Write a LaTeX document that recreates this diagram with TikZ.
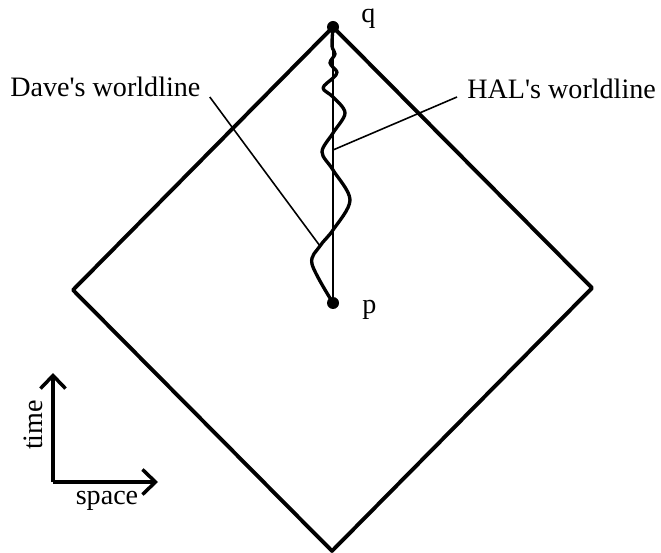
\documentclass[tikz,border=0pt]{standalone}
\usepackage{fontspec}
\setmainfont{Liberation Serif}
\usetikzlibrary{arrows.meta}
\begin{document}
\begin{tikzpicture}[x=0.02cm, y=-0.02cm, line join=round,
  lbl/.style={font=\fontsize{16}{19}\selectfont, inner sep=0pt},
  event/.style={circle, fill, inner sep=0pt, minimum size=0.24cm},
  cone/.style={line width=2.2pt},
  leader/.style={line width=0.9pt},
  axis/.style={line width=2pt,
    -{Straight Barb[length=2.6mm, width=5mm, line width=2pt]}}]
\useasboundingbox (0,0) rectangle (661,553);
% Events
\node[event] (q) at (333,27) {};
\node[event] (p) at (333,303) {};
\node[lbl, anchor=base west] (qlbl) at (361,23) {q};
\node[lbl, anchor=base west] (plbl) at (362,313) {p};
% Light cone corners
\coordinate (right)  at (592,288);
\coordinate (bottom) at (332,551);
\coordinate (left)   at (73,290);
\draw[cone] (q.center) -- (right) -- (bottom) -- (left) -- cycle;
% HAL's worldline (straight)
\draw[line width=1.3pt] (p.center) -- (q.center);
% Dave's worldline (wiggly)
\coordinate (davept) at (320,246);
\coordinate (halpt)  at (333,150);
\draw[line width=1.9pt] plot[smooth, tension=0.55] coordinates {
  (p.center) (312,264) (davept) (333,230) (350,200) (333,170) (322,152)
  (333,133) (345,113) (333,97) (323,88) (333,78) (337,72) (330,63)
  (335,54) (332,46) (q.center)};
% Labels with leaders
\node[lbl, anchor=base west] (davelbl) at (10,97)  {Dave\textquotesingle s worldline};
\node[lbl, anchor=base west] (hallbl)  at (467,99) {HAL\textquotesingle s worldline};
\draw[leader] ([xshift=0.18cm]davelbl.base east) -- (davept);
\draw[leader] ([xshift=-0.2cm,yshift=0.04cm]hallbl.base west) -- (halpt);
% Axes
\coordinate (origin) at (53,482);
\coordinate (tend)   at (53,373);
\coordinate (send)   at (158,482);
\draw[axis] (origin) -- (tend);
\draw[axis] (origin) -- (send);
\node[lbl, rotate=90] (time)  at (33,425)  {time};
\node[lbl]            (space) at (107,501) {space};
\end{tikzpicture}
\end{document}
